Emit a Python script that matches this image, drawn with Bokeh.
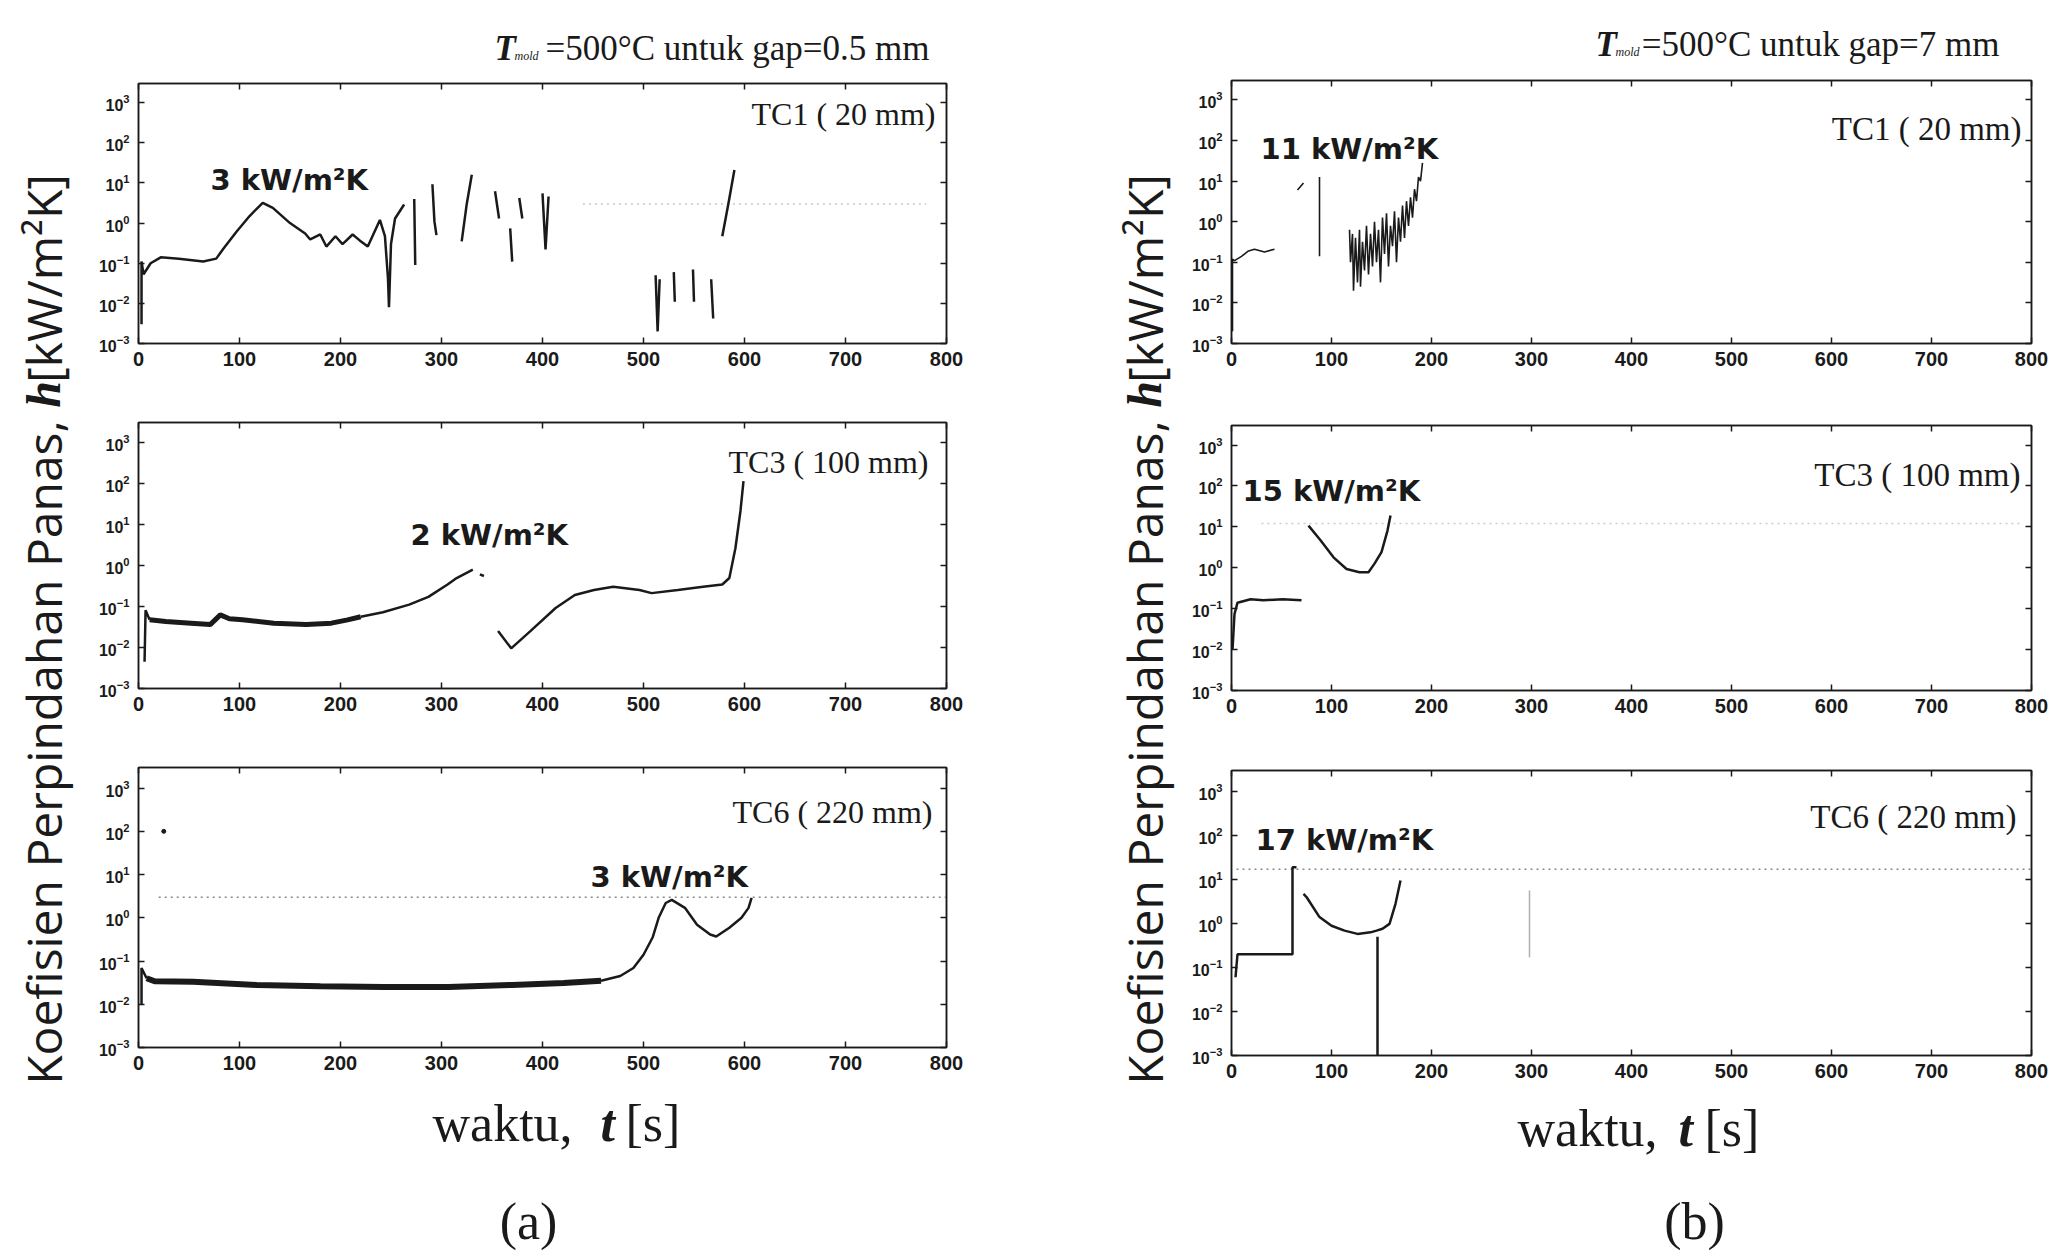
import math
import numpy as np
from bokeh.plotting import figure
from bokeh.models import Range1d, FixedTicker, Label, LinearAxis
from bokeh.layouts import row, column
from bokeh.embed import file_html
from bokeh.resources import INLINE

# ---------------- data (time t [s], heat transfer coefficient h [kW/m2K]) ----------------
X_TICKS = [0, 100, 200, 300, 400, 500, 600, 700, 800]
Y_TICKS = [1e-3, 1e-2, 1e-1, 1e0, 1e1, 1e2, 1e3]
X_LIM = (0, 800)
Y_LIM = (1e-3, 3e3)

# (a) gap = 0.5 mm
A1_TC1 = [
    [(3, 0.003), (3, 0.11), (5, 0.053), (12, 0.10), (22, 0.14), (40, 0.13), (64, 0.11), (77, 0.13),
     (84, 0.23), (97, 0.61), (110, 1.5), (123, 3.2), (133, 2.4), (150, 1.0), (165, 0.55), (170, 0.39),
     (180, 0.52), (186, 0.26), (195, 0.47), (202, 0.30), (212, 0.52), (219, 0.37), (227, 0.26),
     (239, 1.2), (244, 0.47), (247, 0.042), (248, 0.008), (250, 0.3), (254, 1.3), (263, 2.9)],
    [(273, 4.0), (274, 0.09)],
    [(291, 9.3), (293, 1.1), (295, 0.5)],
    [(320, 0.35), (325, 3.0), (330, 16)],
    [(353, 6.2), (357, 1.3)],
    [(368, 0.74), (370, 0.11)],
    [(377, 4.2), (380, 1.3)],
    [(400, 5.5), (403, 0.22), (406, 4.6)],
    [(512, 0.05), (514, 0.002), (516, 0.04)],
    [(530, 0.06), (531, 0.011)],
    [(549, 0.07), (550, 0.011)],
    [(567, 0.04), (569, 0.0042)],
    [(578, 0.47), (584, 3.0), (590, 21)],
]
A1_REF = [(440, 3), (780, 3)]

A2_TC3_BAND = [(11, 0.047), (27, 0.043), (52, 0.039), (71, 0.036), (81, 0.062), (90, 0.05), (103, 0.047),
               (134, 0.039), (166, 0.036), (191, 0.039), (207, 0.047), (220, 0.056)]
A2_TC3 = [
    [(6, 0.0045), (7, 0.08), (11, 0.047)],
    [(220, 0.056), (242, 0.072), (268, 0.11), (287, 0.17), (306, 0.34), (315, 0.49), (331, 0.78)],
    [(338, 0.6), (342, 0.55)],
    [(356, 0.025), (369, 0.0095), (388, 0.025), (413, 0.091), (432, 0.19), (451, 0.25), (470, 0.30),
     (496, 0.25), (508, 0.21), (534, 0.25), (559, 0.30), (578, 0.34), (585, 0.49), (591, 2.6),
     (596, 21), (599, 112)],
]

A3_TC6_BAND = [(8, 0.04), (16, 0.034), (54, 0.033), (117, 0.028), (180, 0.026), (243, 0.025),
               (307, 0.025), (370, 0.028), (421, 0.031), (458, 0.035)]
A3_TC6 = [
    [(3, 0.0098), (3, 0.069), (8, 0.04)],
    [(458, 0.035), (477, 0.045), (490, 0.069), (500, 0.14), (509, 0.35), (515, 1.0), (522, 2.2),
     (528, 2.6), (541, 1.7), (553, 0.69), (566, 0.41), (572, 0.37), (585, 0.59), (597, 1.0),
     (604, 1.7), (607, 2.9)],
]
A3_DOT = [(25, 100)]
A3_REF = [(20, 3), (800, 3)]

# (b) gap = 7 mm
B1_TC1 = [
    [(1, 0.002), (1, 0.12), (3, 0.11), (10, 0.14), (17, 0.19), (23, 0.21), (33, 0.18), (43, 0.21)],
    [(66, 6.0), (72, 9.0)],
    [(88, 12.6), (88, 0.14)],
    [(118, 0.63), (119, 0.1), (121, 0.5), (122, 0.02), (124, 0.4), (126, 0.032), (128, 0.63), (129, 0.025),
     (131, 0.32), (133, 0.063), (135, 0.79), (137, 0.05), (139, 0.5), (141, 0.079), (143, 1.0), (145, 0.1),
     (147, 0.63), (149, 0.032), (151, 1.26), (153, 0.16), (155, 1.6), (157, 0.079), (159, 0.79), (161, 0.25),
     (163, 1.8), (165, 0.1), (167, 1.26), (169, 0.32), (171, 2.5), (173, 0.4), (175, 3.2), (177, 0.79),
     (179, 4.0), (181, 1.26), (183, 6.3), (185, 3.2), (187, 12.6), (189, 10), (191, 28)],
]
B2_TC3 = [
    [(1, 0.01), (3, 0.074), (6, 0.14), (19, 0.17), (32, 0.16), (51, 0.17), (70, 0.16)],
    [(77, 10.7), (89, 4.7), (102, 1.8), (115, 0.93), (128, 0.78), (137, 0.78), (143, 1.26), (150, 2.4),
     (156, 8.1), (159, 19)],
]
B2_REF = [(30, 12), (790, 12)]
B3_TC6 = [
    [(4, 0.06), (6, 0.2), (11, 0.2), (30, 0.2), (56, 0.2), (61, 0.2), (61, 19), (65, 19)],
    [(72, 4.7), (75, 4.0), (88, 1.4), (100, 0.89), (113, 0.69), (126, 0.58), (139, 0.63), (145, 0.69),
     (151, 0.76), (158, 0.98), (164, 2.8), (169, 9.5)],
    [(146, 0.5), (146, 0.001)],
]
B3_FAINT = [(298, 5.6), (298, 0.17)]
B3_REF = [(5, 17), (800, 17)]

INK = "#1a1a1a"
SERIF = "Liberation Serif"
SANS = "DejaVu Sans"
BASE_SHIFT = 9   # measured offset of the alphabetic baseline of Label text


def flat(segments):
    t, h = [], []
    for i, seg in enumerate(segments):
        if i:
            t.append(np.nan)
            h.append(np.nan)
        for a, b in seg:
            t.append(a)
            h.append(b)
    return np.array(t, dtype=float), np.array(h, dtype=float)


def put(p, origin, px, py, text, size, font=SERIF, style="normal", align="left", color=INK):
    """Place text with its baseline at page position (px, py)."""
    fl, fb = origin
    p.add_layout(Label(x=px - fl, y=fb - py + BASE_SHIFT, x_units="screen", y_units="screen",
                       text=text, text_font=font, text_font_size=f"{size}px",
                       text_font_style=style, text_align=align, text_baseline="alphabetic",
                       text_color=color))


def put_up(p, origin, bx, cy, text, size, font=SERIF, style="normal"):
    """Vertical text reading upwards, baseline at page x bx, centred at page y cy."""
    fl, fb = origin
    p.add_layout(Label(x=bx - fl - BASE_SHIFT, y=fb - cy, x_units="screen", y_units="screen",
                       text=text, text_font=font, text_font_size=f"{size}px",
                       text_font_style=style, text_align="center", text_baseline="alphabetic",
                       angle=math.pi / 2, text_color=INK))


def style_axis(ax, label_size, hidden=False):
    ax.axis_line_color = INK
    ax.axis_line_width = 1.5
    ax.major_tick_line_color = INK
    ax.major_tick_line_width = 1.5
    ax.major_tick_in = 6
    ax.major_tick_out = 0
    ax.minor_tick_line_color = None
    ax.major_label_text_font = "Liberation Sans"
    ax.major_label_text_font_style = "bold"
    ax.major_label_text_color = INK
    ax.major_label_text_font_size = f"{label_size}px"
    if hidden:
        ax.major_label_text_alpha = 0.0
        ax.major_label_standoff = 0


def panel(page_left, page_top, W, H, bl, br, bt, bb):
    p = figure(width=W, height=H, x_range=Range1d(*X_LIM), y_range=Range1d(*Y_LIM),
               y_axis_type="log", toolbar_location=None, output_backend="svg", title=None,
               min_border_left=bl, min_border_right=br, min_border_top=bt, min_border_bottom=bb)
    p.grid.visible = False
    p.background_fill_color = "white"
    p.border_fill_color = "white"
    p.outline_line_color = INK
    p.outline_line_width = 1.5
    p.xaxis.ticker = FixedTicker(ticks=X_TICKS)
    p.yaxis.ticker = FixedTicker(ticks=Y_TICKS)
    style_axis(p.xaxis[0], 20)
    style_axis(p.yaxis[0], 16)
    p.xaxis.major_label_standoff = 8
    p.yaxis.major_label_standoff = 9
    top = LinearAxis(ticker=FixedTicker(ticks=X_TICKS))
    style_axis(top, 1, hidden=True)
    p.add_layout(top, "above")
    right = LinearAxis(ticker=FixedTicker(ticks=Y_TICKS))
    style_axis(right, 1, hidden=True)
    p.add_layout(right, "right")
    origin = (page_left + bl, page_top + H - bb)
    return p, origin


def text_canvas(W, H):
    p = figure(width=W, height=H, x_range=Range1d(0, 1), y_range=Range1d(0, 1),
               x_axis_type=None, y_axis_type=None, toolbar_location=None,
               output_backend="svg", title=None, min_border=0)
    p.outline_line_color = None
    p.background_fill_color = "white"
    p.border_fill_color = "white"
    return p


def draw(p, segments, width=2.5, color=INK, dash="solid", alpha=1.0):
    t, h = flat(segments)
    p.line(t, h, line_color=color, line_width=width, line_dash=dash, line_alpha=alpha)


# ---------------- panels (page coordinates: left, top, width, height, borders) ----------------
a1, oa1 = panel(86, 72, 1004, 308, 50, 144, 11, 37)
a2, oa2 = panel(86, 380, 1004, 345, 52, 142, 42, 37)
a3, oa3 = panel(86, 725, 1004, 365, 52, 141, 42, 43)
b1, ob1 = panel(1176, 72, 879, 308, 50, 24, 8, 37)
b2, ob2 = panel(1176, 380, 879, 345, 53, 22, 45, 35)
b3, ob3 = panel(1176, 725, 879, 365, 55, 21, 45, 35)

draw(a1, [A1_REF], width=1.5, color="#c8c8c8", dash="2 4")
draw(a1, A1_TC1)
draw(a2, [A2_TC3_BAND], width=5)
draw(a2, A2_TC3)
draw(a3, [A3_REF], width=1.5, color="#888888", dash="2 4")
draw(a3, [A3_TC6_BAND], width=6)
draw(a3, A3_TC6)
a3.scatter([d[0] for d in A3_DOT], [d[1] for d in A3_DOT], size=4, color=INK)
draw(b1, B1_TC1, width=1.6)
draw(b2, [B2_REF], width=1.5, color="#cccccc", dash="2 4")
draw(b2, B2_TC3)
draw(b3, [B3_REF], width=1.5, color="#888888", dash="2 4")
draw(b3, [B3_FAINT], width=1.5, color="#b0b0b0")
draw(b3, B3_TC6)

# thermocouple labels
put(a1, oa1, 933, 122, "TC1 ( 20 mm)", 32, align="right")
put(a2, oa2, 928, 470, "TC3 ( 100 mm)", 32, align="right")
put(a3, oa3, 932, 820, "TC6 ( 220 mm)", 32, align="right")
put(b1, ob1, 2016, 137, "TC1 ( 20 mm)", 33, align="right")
put(b2, ob2, 2018, 483, "TC3 ( 100 mm)", 33, align="right")
put(b3, ob3, 2016, 825, "TC6 ( 220 mm)", 33, align="right")

# peak annotations
put(a1, oa1, 208, 188, "3 kW/m²K", 29, font=SANS, style="bold")
put(a2, oa2, 410, 543, "2 kW/m²K", 29, font=SANS, style="bold")
put(a3, oa3, 590, 885, "3 kW/m²K", 29, font=SANS, style="bold")
put(b1, ob1, 1255, 157, "11 kW/m²K", 29, font=SANS, style="bold")
put(b2, ob2, 1240, 499, "15 kW/m²K", 29, font=SANS, style="bold")
put(b3, ob3, 1255, 848, "17 kW/m²K", 29, font=SANS, style="bold")

# ---------------- text canvases ----------------
top_c = text_canvas(2055, 72)          # page y 0..72
otop = (0, 72)
put(top_c, otop, 494, 57, "T", 35, style="bold italic")
put(top_c, otop, 514, 64, "mold", 12, style="italic")
put(top_c, otop, 929, 57, "=500°C untuk gap=0.5 mm", 35, align="right")
put(top_c, otop, 1595, 53, "T", 35, style="bold italic")
put(top_c, otop, 1615, 60, "mold", 12, style="italic")
put(top_c, otop, 1999, 53, "=500°C untuk gap=7 mm", 35, align="right")

bot_c = text_canvas(2055, 162)         # page y 1090..1252
obot = (0, 1252)
for x0, yb, xt, xs, xm, ym, tag in [(432, 1132, 600, 625, 528, 1230, "(a)"),
                                     (1517, 1137, 1678, 1704, 1694, 1230, "(b)")]:
    put(bot_c, obot, x0, yb, "waktu,", 52)
    put(bot_c, obot, xt, yb, "t", 52, style="bold italic")
    put(bot_c, obot, xs, yb, "[s]", 52)
    put(bot_c, obot, xm, ym, tag, 52, align="center")

fa = text_canvas(86, 1018)             # page x 0..86, y 72..1090
fb = text_canvas(86, 1018)             # page x 1090..1176
for p, o, bx in [(fa, (0, 1090), 52), (fb, (1090, 1090), 1153)]:
    put_up(p, o, bx, 752, "Koefisien Perpindahan Panas,", 48, font="Open Sans")
    put_up(p, o, bx, 394, "h", 48, style="bold italic")
    put_up(p, o, bx, 278, "[kW/m²K]", 48, font="Open Sans")

middle = row(fa, column(a1, a2, a3, spacing=0), fb, column(b1, b2, b3, spacing=0), spacing=0)
layout = column(top_c, middle, bot_c, spacing=0)

open("out.html", "w").write(file_html(layout, INLINE, title="Koefisien perpindahan panas"))
